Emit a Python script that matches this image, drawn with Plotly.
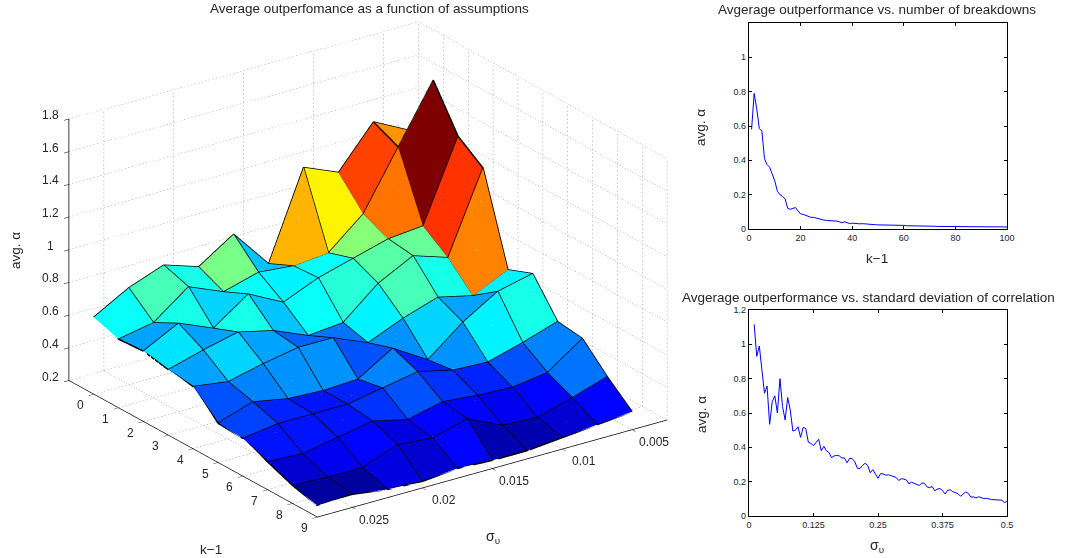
import plotly.graph_objects as go

# k-1 values and sigma values of the surface
k_vals = [0, 1, 2, 3, 4, 5, 6, 7, 8, 9]
sigma_vals = [0.0275, 0.025, 0.0225, 0.02, 0.0175, 0.015, 0.0125, 0.01, 0.0075, 0.005]
# avg alpha: rows = k, columns = sigma (as in sigma_vals)
z_rows = [
    [.67, .79, .87, .80, .94, .70, 1.23, 1.14, 1.39, 1.28],
    [.62, .66, .82, .73, .79, .77, .79, .97, 1.32, 1.67],
    [.63, .74, .65, .80, .69, .78, .84, .90, .92, 1.41],
    [.60, .66, .71, .66, .57, .59, .77, .88, .81, 1.30],
    [.58, .55, .60, .64, .64, .55, .64, .71, .66, .76],
    [.44, .51, .47, .46, .47, .60, .47, .64, .77, .82],
    [.43, .46, .46, .46, .50, .54, .49, .48, .54, .61],
    [.37, .36, .40, .44, .39, .44, .42, .41, .44, .59],
    [.31, .30, .30, .38, .36, .42, .32, .31, .37, .44],
    [.27, .28, .25, .24, .26, .25, .25, .27, .29, .31],
]
k_ticks = [0, 1, 2, 3, 4, 5, 6, 7, 8, 9]
sigma_ticks = [0.005, 0.01, 0.015, 0.02, 0.025]
sigma_ticktext = ["0.005", "0.01", "0.015", "0.02", "0.025"]
z_ticks = [0.2, 0.4, 0.6, 0.8, 1.0, 1.2, 1.4, 1.6, 1.8]
z_ticktext = ["0.2", "0.4", "0.6", "0.8", "1", "1.2", "1.4", "1.6", "1.8"]
k_range = [-1, 9]
sigma_range = [0.0275, 0.0025]
z_range = [0.2, 1.8]

# avg alpha vs number of breakdowns, k-1 = 1..100
breakdown_alpha = [
    .58, .79, .70, .585, .57, .41, .375, .36, .32, .28,
    .22, .20, .19, .175, .12, .115, .12, .125, .105, .088,
    .085, .08, .072, .068, .068, .063, .058, .054, .052, .05,
    .05, .048, .048, .046, .042, .036, .042, .036, .032, .034,
    .032, .03, .03, .031, .029, .028, .028, .027, .025, .024,
    .024, .023, .023, .023, .023, .023, .022, .021, .021, .021,
    .019, .019, .019, .02, .018, .018, .016, .016, .016, .016,
    .016, .016, .015, .015, .015, .014, .014, .014, .014, .013,
    .013, .013, .013, .014, .014, .013, .013, .012, .012, .012,
    .012, .012, .011, .011, .011, .011, .011, .012, .012, .012,
]
breakdown_x = list(range(1, 101))

# avg alpha vs std of correlation
corr_x = [round(0.005 * n, 3) for n in range(2, 101)]
corr_alpha = [
    1.117, .93, .99, .86, .715, .757, .534, .666, .70, .60,
    .80, .637, .56, .69, .617, .495, .50, .52, .458, .516,
    .51, .43, .423, .41, .43, .447, .38, .406, .38, .37,
    .34, .35, .353, .35, .338, .338, .31, .336, .334, .317,
    .278, .276, .295, .307, .295, .252, .27, .243, .22, .247,
    .245, .238, .24, .235, .23, .225, .207, .217, .215, .21,
    .187, .197, .19, .185, .178, .192, .19, .17, .165, .172,
    .147, .157, .16, .148, .128, .15, .152, .142, .135, .13,
    .115, .125, .14, .132, .11, .112, .105, .112, .108, .102,
    .103, .098, .096, .095, .094, .095, .092, .078, .085,
]

FONT = "Liberation Sans"
TXT = "#262626"


def jet(t):
    t = min(max(t, 0.0), 0.9999)
    idx = int(t * 64) / 63.0
    def ch(c):
        return max(0.0, min(1.0, 1.5 - abs(4 * idx - c)))
    return "rgb(%d,%d,%d)" % (255 * ch(3), 255 * ch(2), 255 * ch(1))


nk, ns = len(k_vals), len(sigma_vals)
zmin = min(min(r) for r in z_rows)
zmax = max(max(r) for r in z_rows)
vx, vy, vz = [], [], []
for a in range(nk):
    for b in range(ns):
        vx.append(k_vals[a]); vy.append(sigma_vals[b]); vz.append(z_rows[a][b])
ti, tj, tk, fc = [], [], [], []
ex, ey, ez = [], [], []
wx, wy, wz = [], [], []
for a in range(nk - 1):
    for b in range(ns - 1):
        p = a * ns + b
        col = jet((z_rows[a][b + 1] - zmin) / (zmax - zmin))
        ti += [p, p + 1]; tj += [p + 1, p + 1 + ns]; tk += [p + ns, p + ns]
        fc += [col, col]
        wx += [k_vals[a], k_vals[a + 1], None]
        wy += [sigma_vals[b + 1], sigma_vals[b], None]
        wz += [z_rows[a][b + 1], z_rows[a + 1][b], None]
for a in range(nk):
    ex += k_vals[a:a + 1] * ns + [None]
    ey += sigma_vals + [None]
    ez += z_rows[a] + [None]
for b in range(ns):
    ex += k_vals + [None]
    ey += [sigma_vals[b]] * nk + [None]
    ez += [z_rows[a][b] for a in range(nk)] + [None]

# dotted grid on the floor and the two back walls, drawn as short dashes
gx, gy, gz = [], [], []
def seg(p, q, n):
    for s in range(n):
        t0, t1 = s / n, (s + 0.35) / n
        gx.extend([p[0] + (q[0] - p[0]) * t0, p[0] + (q[0] - p[0]) * t1, None])
        gy.extend([p[1] + (q[1] - p[1]) * t0, p[1] + (q[1] - p[1]) * t1, None])
        gz.extend([p[2] + (q[2] - p[2]) * t0, p[2] + (q[2] - p[2]) * t1, None])
back_k, front_k = k_range
front_s, back_s = sigma_range
LONG, TALL = 100, 65
for t in k_ticks:
    seg((t, front_s, z_range[0]), (t, back_s, z_range[0]), LONG)
    seg((t, back_s, z_range[0]), (t, back_s, z_range[1]), TALL)
for t in sigma_ticks:
    seg((back_k, t, z_range[0]), (front_k, t, z_range[0]), LONG)
    seg((back_k, t, z_range[0]), (back_k, t, z_range[1]), TALL)
for t in z_ticks:
    seg((back_k, front_s, t), (back_k, back_s, t), LONG)
    seg((back_k, back_s, t), (front_k, back_s, t), LONG)
seg((back_k, back_s, z_range[0]), (back_k, back_s, z_range[1]), TALL)

fig = go.Figure()
fig.add_trace(go.Scatter3d(x=gx, y=gy, z=gz, mode="lines", hoverinfo="skip", showlegend=False,
                           line=dict(color="#8c8c8c", width=1)))
fig.add_trace(go.Mesh3d(x=vx, y=vy, z=vz, i=ti, j=tj, k=tk, facecolor=fc, flatshading=True,
                        lighting=dict(ambient=1, diffuse=0, specular=0, fresnel=0, roughness=1),
                        hoverinfo="skip", showscale=False))
fig.add_trace(go.Scatter3d(x=wx, y=wy, z=wz, mode="lines", hoverinfo="skip", showlegend=False,
                           line=dict(color="rgba(255,255,255,0.3)", width=1)))
fig.add_trace(go.Scatter3d(x=ex, y=ey, z=ez, mode="lines", hoverinfo="skip", showlegend=False,
                           line=dict(color="black", width=3)))

fig.add_trace(go.Scatter(x=breakdown_x, y=breakdown_alpha, mode="lines", xaxis="x", yaxis="y",
                         line=dict(color="#0000ff", width=1), showlegend=False))
fig.add_trace(go.Scatter(x=corr_x, y=corr_alpha, mode="lines", xaxis="x2", yaxis="y2",
                         line=dict(color="#0000ff", width=1), showlegend=False))


def ax3d(rng, vals):
    return dict(range=rng, tickmode="array", tickvals=vals, showgrid=False, zeroline=False,
                showbackground=False, showline=True, linecolor="black", linewidth=1.5,
                ticks="outside", ticklen=6, tickcolor="black", title=dict(text=""),
                showticklabels=False, showspikes=False)


def ax2d(rng, vals, text, domain, anchor):
    return dict(range=rng, domain=domain, anchor=anchor, tickmode="array", tickvals=vals, ticktext=text,
                showgrid=False, zeroline=False, showline=True, mirror="ticks", linecolor="black",
                linewidth=1.3, ticks="inside", ticklen=3, tickcolor="black", tickwidth=1, automargin=False,
                tickfont=dict(family=FONT, size=9, color=TXT))


W, H = 1073, 558
def px(x): return x / W
def py(y): return 1 - y / H


def note(text, x, y, size, angle=0):
    return dict(text=text, x=px(x), y=py(y), xref="paper", yref="paper", showarrow=False,
                textangle=angle, xanchor="center", yanchor="middle", borderpad=0,
                font=dict(family=FONT, size=size, color=TXT))


def tick_note(text, x, y, z, dx, dy):
    return dict(text=str(text), x=x, y=y, z=z, showarrow=False, xshift=dx, yshift=dy,
                xanchor="center", yanchor="middle", font=dict(family=FONT, size=12, color=TXT))


scene_notes = []
for t in k_ticks:
    scene_notes.append(tick_note(t, t, sigma_range[0], z_range[0], -13, -11))
for t, s in zip(sigma_ticks, sigma_ticktext):
    scene_notes.append(tick_note(s, k_range[1], t, z_range[0], 22, -12))
for t, s in zip(z_ticks, z_ticktext):
    scene_notes.append(tick_note(s, k_range[0], sigma_range[0], t, -18, 4))

fig.update_layout(
    width=W, height=H, autosize=False, margin=dict(l=0, r=0, t=0, b=0), paper_bgcolor="white",
    plot_bgcolor="white", showlegend=False,
    scene=dict(
        domain=dict(x=[px(4), px(732)], y=[py(533.2), py(5.9)]),
        aspectmode="manual", aspectratio=dict(x=1.628, y=1.628, z=1.078),
        xaxis=ax3d(k_range, k_ticks), yaxis=ax3d(sigma_range, sigma_ticks),
        zaxis=ax3d(z_range, z_ticks), annotations=scene_notes,
        camera=dict(projection=dict(type="orthographic"), up=dict(x=0, y=0, z=1),
                    center=dict(x=0, y=0, z=0), eye=dict(x=1.5 * .750, y=-1.5 * .533, z=1.5 * .3905)),
    ),
    xaxis=ax2d([0, 100], [0, 20, 40, 60, 80, 100], ["0", "20", "40", "60", "80", "100"],
               [px(749), px(1007)], "y"),
    yaxis=ax2d([0, 1.2], [0, .2, .4, .6, .8, 1], ["0", "0.2", "0.4", "0.6", "0.8", "1"],
               [py(229), py(23)], "x"),
    xaxis2=ax2d([0, 0.5], [0, .125, .25, .375, .5], ["0", "0.125", "0.25", "0.375", "0.5"],
                [px(749), px(1007)], "y2"),
    yaxis2=ax2d([0, 1.2], [0, .2, .4, .6, .8, 1, 1.2], ["0", "0.2", "0.4", "0.6", "0.8", "1", "1.2"],
                [py(516), py(310)], "x2"),
    annotations=[
        note("Average outperfomance as a function of assumptions", 369, 8, 13.5),
        note("Avgerage outperformance vs. number of breakdowns", 877, 10, 13.5),
        note("Avgerage outperformance vs. standard deviation of correlation", 868, 297, 13.5),
        note("avg. α", 16, 251, 13.5, -90),
        note("avg. α", 701, 127, 13.5, -90),
        note("avg. α", 701, 414, 13.5, -90),
        note("k−1", 211, 549, 13.5),
        note("k−1", 877, 258, 13.5),
        note("σ<sub>υ</sub>", 493, 537, 14),
        note("σ<sub>υ</sub>", 877, 546, 14),
    ],
)
fig.write_html("out.html", config=dict(displayModeBar=False),
               post_script="document.body.style.margin='0';document.documentElement.style.overflow='hidden';Plotly.Plots.resize(document.getElementById('{plot_id}'));")
